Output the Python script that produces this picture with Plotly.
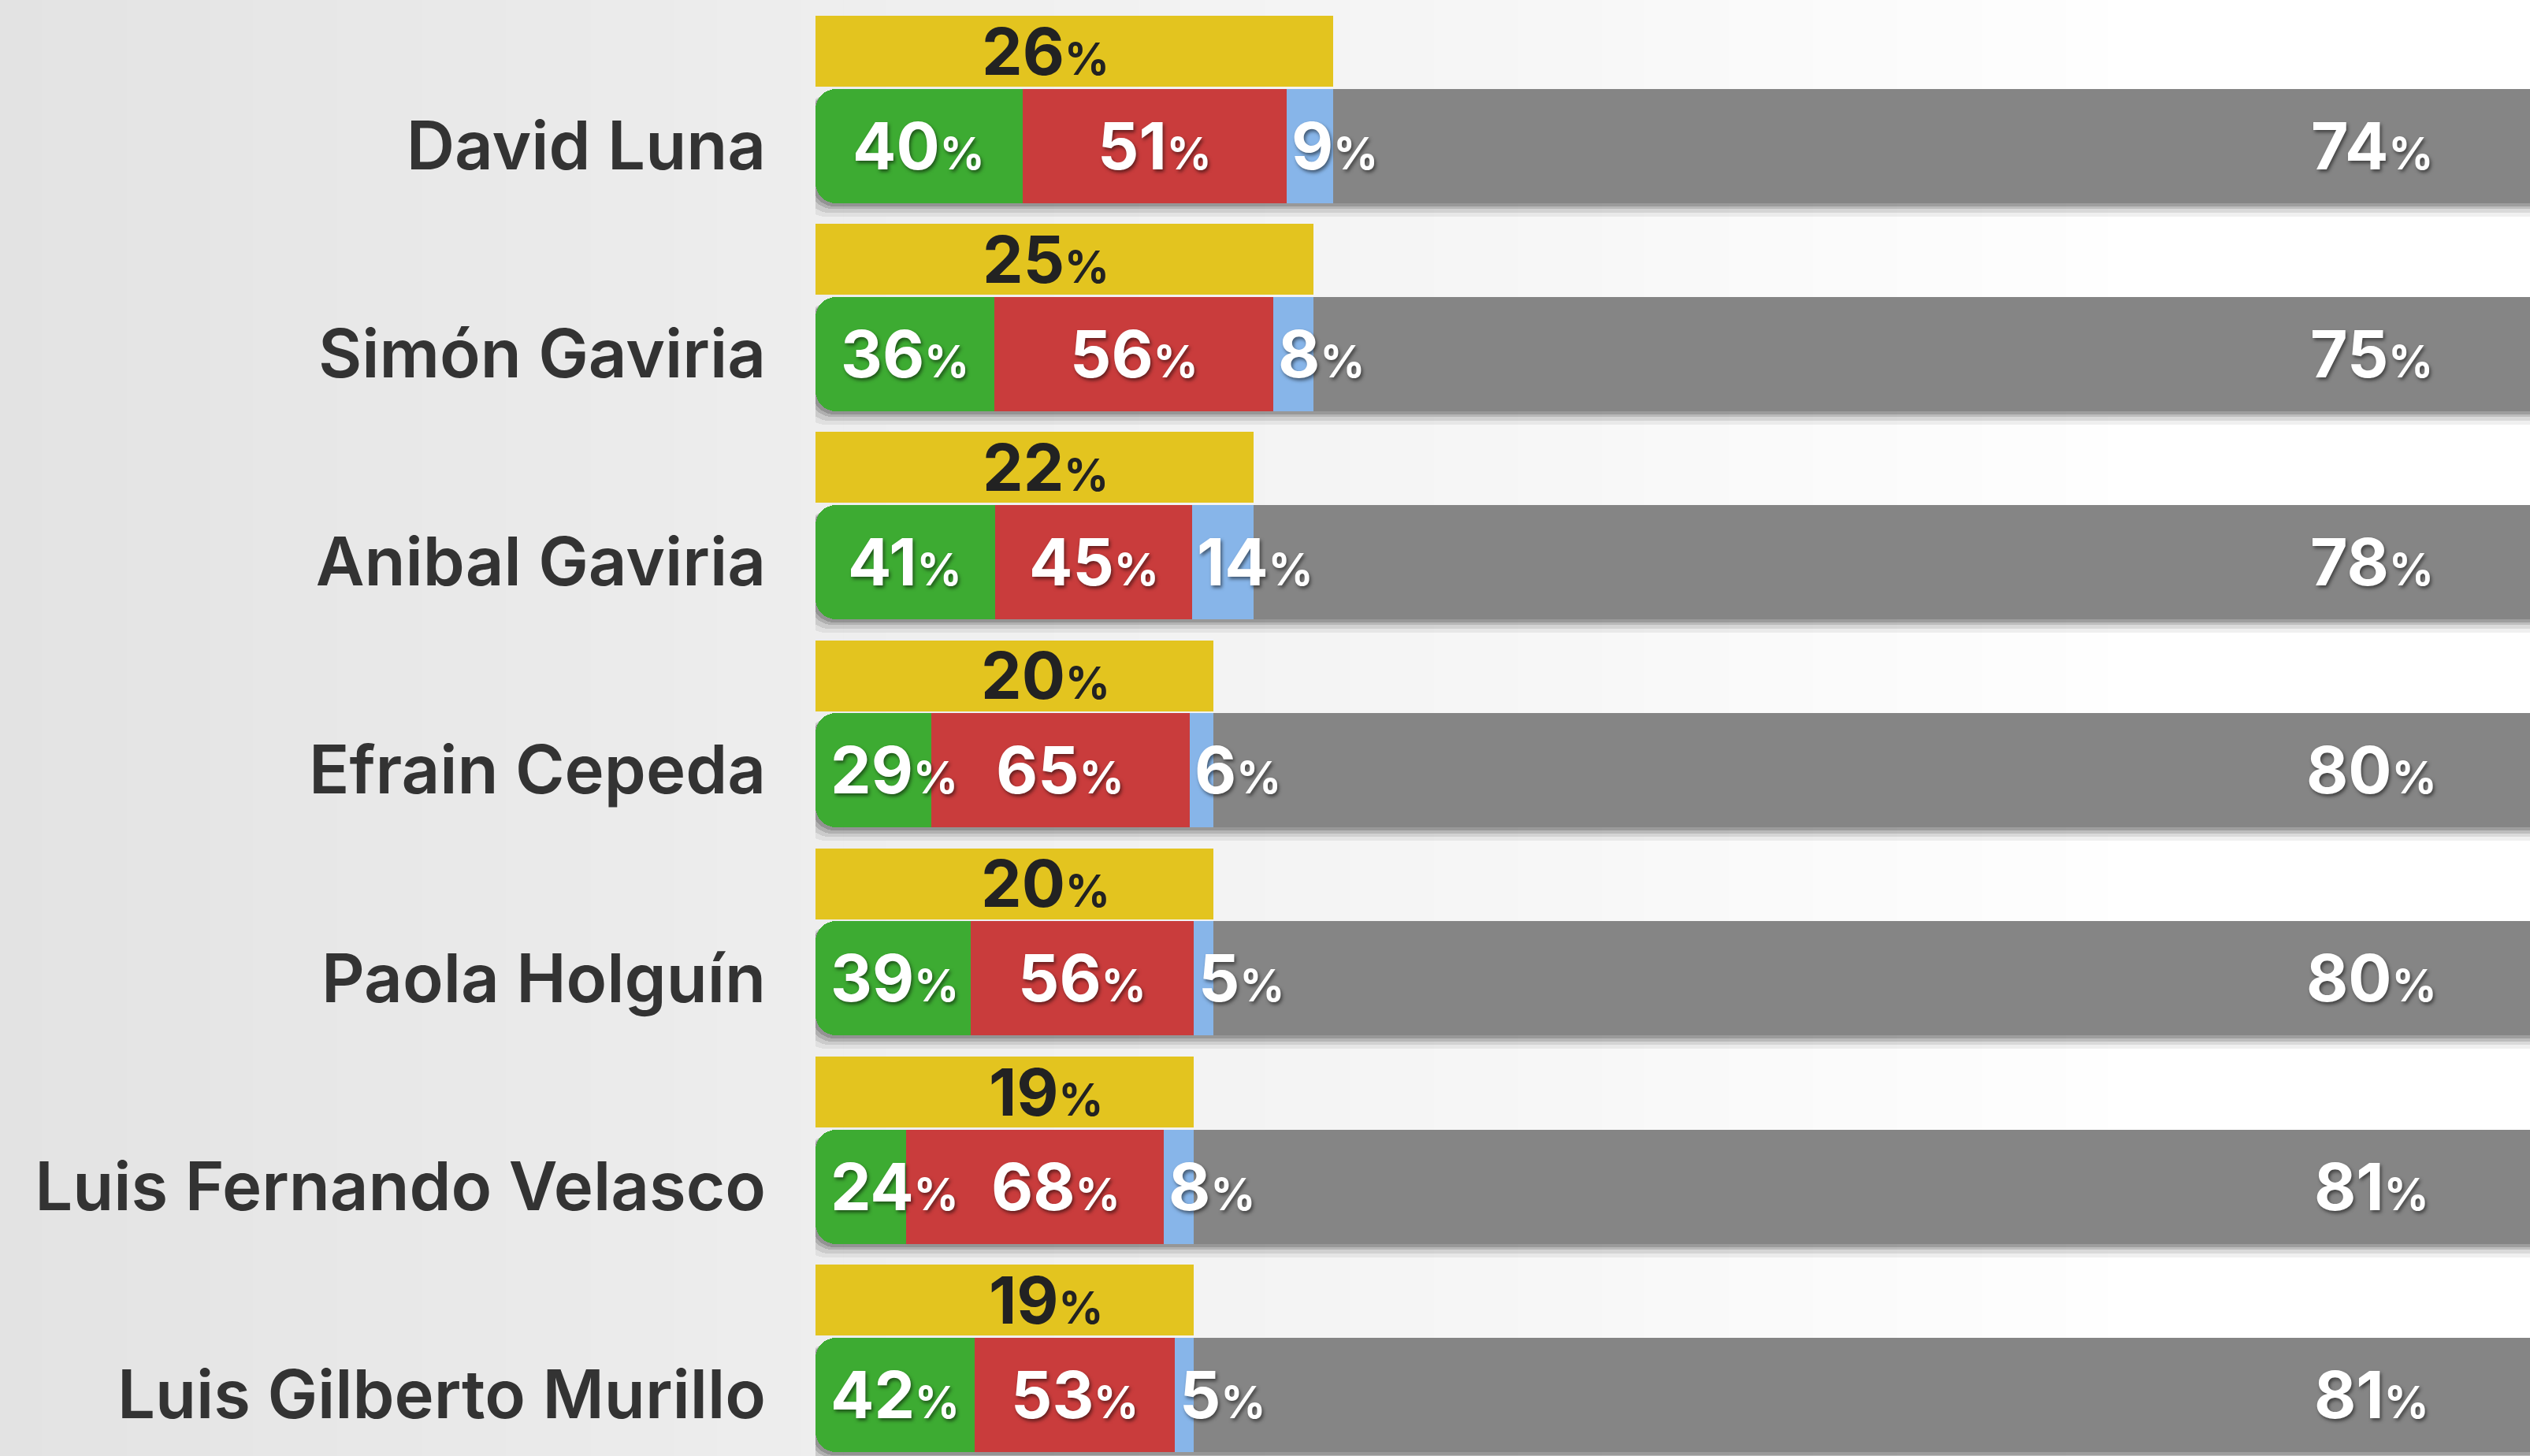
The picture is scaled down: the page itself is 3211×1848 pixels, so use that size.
import plotly.graph_objects as go

# ---------------- data ----------------
names = ["David Luna", "Simón Gaviria", "Anibal Gaviria", "Efrain Cepeda",
         "Paola Holguín", "Luis Fernando Velasco", "Luis Gilberto Murillo"]
known = [26, 25, 22, 20, 20, 19, 19]          # yellow (conoce)
unknown = [74, 75, 78, 80, 80, 81, 81]        # grey (no conoce)
favorable = [40, 36, 41, 29, 39, 24, 42]      # green
unfavorable = [51, 56, 45, 65, 56, 68, 53]    # red
no_answer = [9, 8, 14, 6, 5, 8, 5]            # blue

# ---------------- style ----------------
W, H = 3211, 1848
LEFT = 1035
PLOT_W = W - LEFT
PX_PER_UNIT_X = 25.27
X_MAX = PLOT_W / PX_PER_UNIT_X
ROW_PX = 264.2
FIRST_CENTER = 185
Y_TOP = -FIRST_CENTER / ROW_PX
Y_BOT = (H - FIRST_CENTER) / ROW_PX
BAR_W = 145 / ROW_PX
YEL_W = 90 / ROW_PX
YEL_OFF = 120 / ROW_PX
MIN_LABEL_CENTER = 100 / PX_PER_UNIT_X
LABEL_GAP = 205 / PX_PER_UNIT_X

YELLOW = "#E3C41F"
GREEN = "#3DAB32"
RED = "#C93C3C"
BLUE = "#87B5E9"
GREY = "#858585"
FONT = "Inter"

n = len(names)
ys = list(range(n))
g_end = [k * f / 100 for k, f in zip(known, favorable)]
r_w = [k * u / 100 for k, u in zip(known, unfavorable)]
b_base = [g + r for g, r in zip(g_end, r_w)]
b_w = [k * a / 100 for k, a in zip(known, no_answer)]
total = [k + u for k, u in zip(known, unknown)]

fig = go.Figure()

# drop shadow under the lower bars (soft, layered)
for dx, dy, dh, a in [(15, 13, 8, 0.06), (11, 10, 4, 0.09), (7, 7, 1, 0.13), (4, 4, 0, 0.16)]:
    fig.add_bar(
        orientation="h", y=[y + dy / ROW_PX for y in ys],
        base=total, x=[-(t + dx / PX_PER_UNIT_X) for t in total],
        width=BAR_W + dh / ROW_PX,
        marker=dict(color=f"rgba(0,0,0,{a})", line_width=0, cornerradius=28),
        hoverinfo="skip", showlegend=False)

# grey (unknown)
fig.add_bar(orientation="h", y=ys, base=known, x=unknown, width=BAR_W,
            marker=dict(color=GREY, line_width=0), hoverinfo="skip", showlegend=False)
# green, drawn right-to-left so the rounded end is on the left
fig.add_bar(orientation="h", y=ys, base=g_end, x=[-g for g in g_end], width=BAR_W,
            marker=dict(color=GREEN, line_width=0, cornerradius=26),
            hoverinfo="skip", showlegend=False)
# square off the right end of the green segment
fig.add_bar(orientation="h", y=ys, base=[g / 2 for g in g_end], x=[g / 2 for g in g_end],
            width=BAR_W, marker=dict(color=GREEN, line_width=0),
            hoverinfo="skip", showlegend=False)
fig.add_bar(orientation="h", y=ys, base=g_end, x=r_w, width=BAR_W,
            marker=dict(color=RED, line_width=0), hoverinfo="skip", showlegend=False)
fig.add_bar(orientation="h", y=ys, base=b_base, x=b_w, width=BAR_W,
            marker=dict(color=BLUE, line_width=0), hoverinfo="skip", showlegend=False)
# yellow (known)
fig.add_bar(orientation="h", y=[y - YEL_OFF for y in ys], base=[0] * n, x=known,
            width=YEL_W, marker=dict(color=YELLOW, line_width=0),
            hoverinfo="skip", showlegend=False)


def pct(v, small=56):
    return f"{v}<span style='font-size:{small}px'>%</span>"


SHADOW = "2px 3px 4px rgba(0,0,0,0.5)"
white_font = dict(family=FONT, size=82, color="white", weight=700, shadow=SHADOW)
dark_font = dict(family=FONT, size=82, color="#222222", weight=700)

ann = []
for i in range(n):
    g_lab = max(g_end[i] / 2, MIN_LABEL_CENTER)
    r_lab = max(g_end[i] + r_w[i] / 2, g_lab + LABEL_GAP)
    ann.append(dict(x=g_lab, y=ys[i], xref="x", yref="y",
                    text=pct(favorable[i]), showarrow=False, font=white_font,
                    xanchor="center", yanchor="middle"))
    ann.append(dict(x=r_lab, y=ys[i], xref="x", yref="y",
                    text=pct(unfavorable[i]), showarrow=False, font=white_font,
                    xanchor="center", yanchor="middle"))
    ann.append(dict(x=b_base[i], y=ys[i], xref="x", yref="y", text=pct(no_answer[i]),
                    showarrow=False, font=white_font, xanchor="left", yanchor="middle",
                    xshift=4))
    ann.append(dict(x=(1327 - LEFT) / PLOT_W, y=ys[i] - YEL_OFF, xref="paper", yref="y",
                    text=pct(known[i]), showarrow=False, font=dark_font,
                    xanchor="center", yanchor="middle"))
    ann.append(dict(x=(3010 - LEFT) / PLOT_W, y=ys[i], xref="paper", yref="y",
                    text=pct(unknown[i]), showarrow=False, font=white_font,
                    xanchor="center", yanchor="middle"))

# background gradient (light grey on the left to white on the right)
shapes = []
steps = 60
for s in range(steps):
    px0 = W * s / steps
    px1 = W * (s + 1) / steps + 1
    t = min(1.0, (px0 + px1) / 2 / 2750)
    c = int(round(227 + (255 - 227) * t))
    shapes.append(dict(type="rect", xref="paper", yref="paper",
                       x0=(px0 - LEFT) / PLOT_W, x1=(px1 - LEFT) / PLOT_W,
                       y0=-0.01, y1=1.01, fillcolor=f"rgb({c},{c},{c})",
                       line_width=0, layer="below"))

fig.update_layout(
    width=W, height=H, barmode="overlay", bargap=0,
    margin=dict(l=LEFT, r=0, t=0, b=0, pad=0),
    paper_bgcolor="white", plot_bgcolor="rgba(0,0,0,0)",
    annotations=ann, shapes=shapes, showlegend=False,
    xaxis=dict(range=[0, X_MAX], visible=False, fixedrange=True),
    yaxis=dict(range=[Y_BOT, Y_TOP], tickvals=ys, ticktext=names,
               showgrid=False, zeroline=False, showline=False, ticks="",
               ticklabelstandoff=62,
               tickfont=dict(family=FONT, size=85, color="#333333", weight=600),
               fixedrange=True),
)

fig.write_html("out.html", config={"displayModeBar": False},
               post_script="document.body.style.margin='0';document.body.style.overflow='hidden';")
